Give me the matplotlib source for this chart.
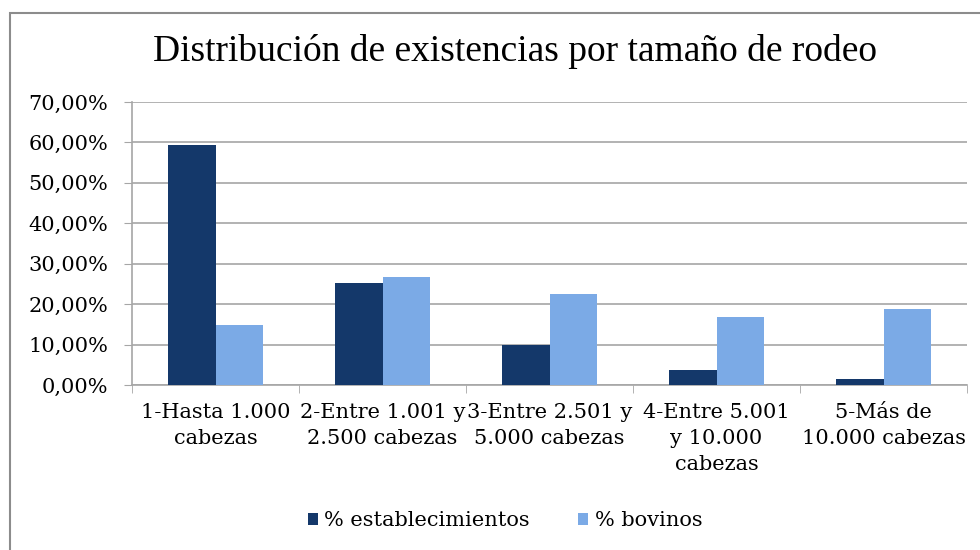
import matplotlib.pyplot as plt
import numpy as np
from matplotlib.patches import Rectangle

categorias = ["1-Hasta 1.000\ncabezas", "2-Entre 1.001 y\n2.500 cabezas",
              "3-Entre 2.501 y\n5.000 cabezas", "4-Entre 5.001\ny 10.000\ncabezas",
              "5-Más de\n10.000 cabezas"]
establecimientos = [59.4, 25.2, 9.9, 3.7, 1.4]
bovinos = [14.8, 26.7, 22.4, 16.7, 18.8]
yticks = [0, 10, 20, 30, 40, 50, 60, 70]

plt.rcParams['font.family'] = ['DejaVu Serif']

def graph():
    fig = plt.figure(figsize=(9.8, 5.5), dpi=100)
    ax = fig.add_axes([132/980, 1-385/550, (967-132)/980, (385-102)/550])

    x = np.arange(len(categorias))
    w = 1/3.5
    ax.bar(x - w/2, establecimientos, w, color='#14386A', label='% establecimientos', zorder=3)
    ax.bar(x + w/2, bovinos, w, color='#7BAAE6', label='% bovinos', zorder=3)

    ax.set_xlim(-0.5, len(categorias) - 0.5)
    ax.set_ylim(0, 70)
    ax.set_yticks(yticks)
    ax.set_yticklabels(["%d,00%%" % v for v in yticks], fontsize=15)
    ax.yaxis.grid(True, color='#A6A6A6', linewidth=1.2, zorder=0)

    ax.set_xticks(x)
    ax.set_xticklabels(categorias, fontsize=15, linespacing=1.45)
    ax.set_xticks(np.arange(len(categorias) + 1) - 0.5, minor=True)
    ax.tick_params(axis='x', which='major', length=0, pad=13)
    ax.tick_params(axis='x', which='minor', length=6, color='#A6A6A6')
    ax.tick_params(axis='y', length=6, color='#A6A6A6', pad=11)

    for s in ['top', 'right']:
        ax.spines[s].set_visible(False)
    for s in ['left', 'bottom']:
        ax.spines[s].set_color('#A6A6A6')
        ax.spines[s].set_linewidth(1.2)

    fig.text(515/980, 1-52/550, "Distribución de existencias por tamaño de rodeo",
             ha='center', va='center', fontsize=27, family='Liberation Serif')

    fig.legend(loc='center', bbox_to_anchor=(505/980, 1-521/550), ncol=2,
               frameon=False, fontsize=15, handlelength=0.5, handleheight=0.5,
               handletextpad=0.3, columnspacing=2.3)

    fig.patches.append(Rectangle((10/980, -0.1), 1.0, (550-13)/550 + 0.1,
                                 transform=fig.transFigure, fill=False,
                                 edgecolor='#8C8C8C', linewidth=1.5))

    fig.savefig('out.png', dpi=100)


if __name__ == '__main__':
    graph()
